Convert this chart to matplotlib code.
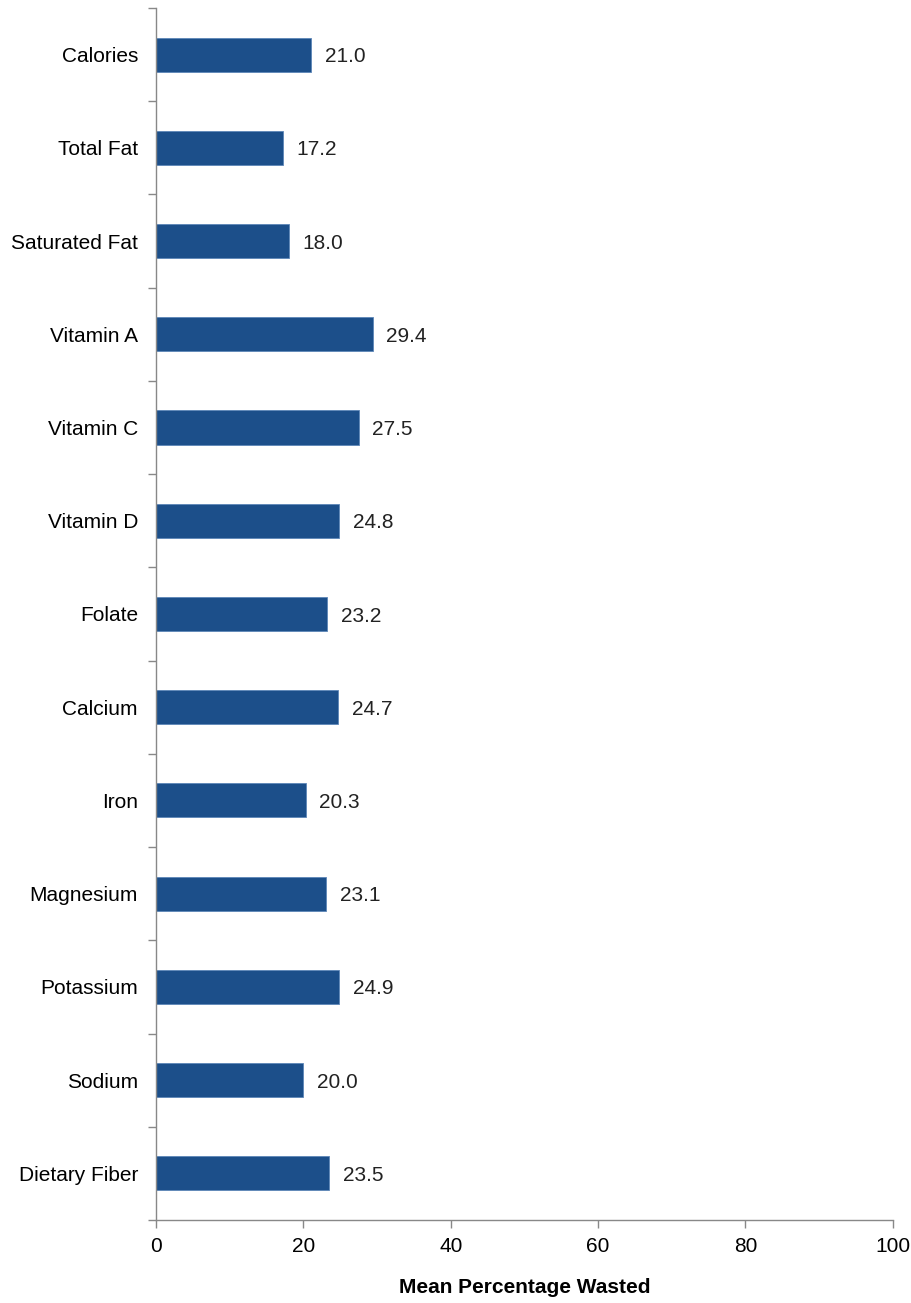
import matplotlib.pyplot as plt
import numpy as np

# nutrient categories, top to bottom
nutrients = ["Calories", "Total Fat", "Saturated Fat", "Vitamin A", "Vitamin C",
             "Vitamin D", "Folate", "Calcium", "Iron", "Magnesium", "Potassium",
             "Sodium", "Dietary Fiber"]
pct_wasted = [21.0, 17.2, 18.0, 29.4, 27.5, 24.8, 23.2, 24.7, 20.3, 23.1, 24.9, 20.0, 23.5]
x_ticks = [0, 20, 40, 60, 80, 100]

plt.rcParams['font.family'] = ['Liberation Sans', 'DejaVu Sans']

fig = plt.figure(figsize=(9.12, 13.03), dpi=100)
ax = fig.add_axes([0.171, 0.0637, 0.808, 0.9302])

ypos = np.arange(len(nutrients))
bars = ax.barh(ypos, pct_wasted, height=0.365, color="#1c4f8a",
               edgecolor="#5d86b8", linewidth=0.6)

for y, v in zip(ypos, pct_wasted):
    ax.annotate(f"{v:.1f}", (v, y), xytext=(10, -1.5), textcoords="offset points",
                va="center", ha="left", fontsize=15, color="#222222")

ax.set_ylim(len(nutrients) - 0.5, -0.5)
ax.set_xlim(0, 100)
ax.set_yticks(ypos)
ax.set_yticklabels(nutrients, fontsize=15)
ax.set_yticks(np.arange(len(nutrients) + 1) - 0.5, minor=True)
ax.tick_params(axis="y", which="major", length=0, pad=13)
ax.tick_params(axis="y", which="minor", length=6, color="#888888", width=1)
ax.set_xticks(x_ticks)
ax.tick_params(axis="x", length=6, color="#888888", width=1, labelsize=15, pad=6)

ax.set_xlabel("Mean Percentage Wasted", fontsize=15, fontweight="bold", labelpad=16)

for side in ["top", "right"]:
    ax.spines[side].set_visible(False)
for side in ["left", "bottom"]:
    ax.spines[side].set_color("#888888")
    ax.spines[side].set_linewidth(1)

fig.savefig("out.png", dpi=100)
